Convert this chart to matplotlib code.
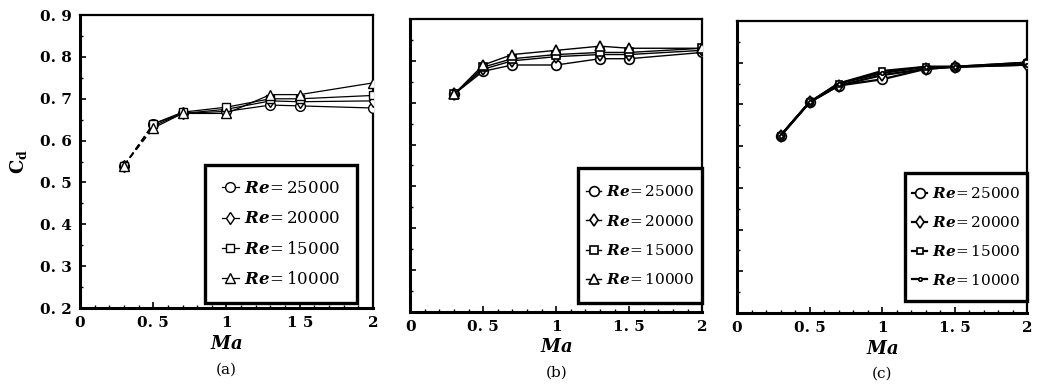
import matplotlib
matplotlib.use("Agg")
import matplotlib.pyplot as plt
from matplotlib.ticker import MultipleLocator
from matplotlib.patches import Rectangle

plt.rcParams['font.family'] = ['DejaVu Serif']
plt.rcParams['mathtext.fontset'] = 'dejavuserif'

ma = [0.3, 0.5, 0.7, 1.0, 1.3, 1.5, 2.0]
re_labels = ["25000", "20000", "15000", "10000"]

cd_a = {
    "25000": [0.54, 0.640, 0.665, 0.670, 0.685, 0.683, 0.678],
    "20000": [0.54, 0.635, 0.665, 0.675, 0.695, 0.693, 0.695],
    "15000": [0.54, 0.640, 0.668, 0.680, 0.700, 0.700, 0.708],
    "10000": [0.54, 0.630, 0.665, 0.665, 0.710, 0.710, 0.738],
}
cd_b = {
    "25000": [0.72, 0.775, 0.790, 0.790, 0.805, 0.805, 0.820],
    "20000": [0.72, 0.780, 0.800, 0.810, 0.815, 0.815, 0.825],
    "15000": [0.72, 0.785, 0.805, 0.815, 0.820, 0.820, 0.830],
    "10000": [0.72, 0.790, 0.815, 0.825, 0.835, 0.830, 0.830],
}
cd_c = {
    "25000": [0.625, 0.705, 0.745, 0.760, 0.785, 0.790, 0.800],
    "20000": [0.625, 0.705, 0.745, 0.770, 0.785, 0.790, 0.795],
    "15000": [0.625, 0.705, 0.750, 0.780, 0.790, 0.790, 0.800],
    "10000": [0.625, 0.705, 0.750, 0.775, 0.790, 0.790, 0.795],
}

xticks = [0, 0.5, 1, 1.5, 2]
xticklabels_a = ["0", "0. 5", "1", "1 5", "2"]
xticklabels_bc = ["0", "0. 5", "1", "1. 5", "2"]
yticks = [0.2, 0.3, 0.4, 0.5, 0.6, 0.7, 0.8, 0.9]
yticklabels = ["0. 2", "0. 3", "0. 4", "0. 5", "0. 6", "0. 7", "0. 8", "0. 9"]
panel_tags = ["(a)", "(b)", "(c)"]

markers_ab = ['o', 'd', 's', '^']
msizes_ab = [7, 6.5, 5.5, 6.5]
markers_c = ['o', 'd', 's', '.']
msizes_c = [7, 6, 5, 5]

fig = plt.figure(figsize=(10.41, 3.87), dpi=100)
positions = [
    [0.0768, 0.204, 0.2815, 0.757],
    [0.394, 0.194, 0.2805, 0.757],
    [0.708, 0.191, 0.2786, 0.755],
]
datas = [cd_a, cd_b, cd_c]
legend_boxes = [
    (0.427, 0.017, 0.518, 0.471),
    (0.575, 0.03, 0.425, 0.46),
    (0.58, 0.04, 0.42, 0.44),
]
legend_fs = [12, 11, 11]
legend_ls = [0.8, 0.93, 0.9]

for i, (pos, data) in enumerate(zip(positions, datas)):
    ax = fig.add_axes(pos)
    mk = markers_c if i == 2 else markers_ab
    ms = msizes_c if i == 2 else msizes_ab
    for j, re in enumerate(re_labels):
        y = data[re]
        lbl = r'$\mathbfit{Re}\!=$' + re
        if i == 0:
            ax.plot(ma[:2], y[:2], color='black', lw=0.9, ls=(0, (5, 3)), zorder=2)
            ax.plot(ma[1:], y[1:], color='black', lw=0.9, zorder=2)
            ax.plot(ma, y, ls='none', marker=mk[j], ms=ms[j], mfc='white',
                    mec='black', mew=1.0, zorder=3)
            ax.plot([], [], color='black', lw=0.9, marker=mk[j], ms=ms[j],
                    mfc='white', mec='black', mew=1.0, label=lbl)
        else:
            lw = 1.6 if i == 2 else 1.0
            ax.plot(ma, y, color='black', lw=lw, marker=mk[j], ms=ms[j],
                    mfc='white', mec='black', mew=1.2, label=lbl, zorder=3)
    ax.set_xlim(0, 2)
    ax.set_ylim(0.2, 0.9)
    ax.set_xticks(xticks)
    ax.set_xticklabels(xticklabels_a if i == 0 else xticklabels_bc,
                       fontsize=11, fontweight='bold')
    ax.set_yticks(yticks)
    if i == 0:
        ax.set_yticklabels(yticklabels, fontsize=11, fontweight='bold')
        ax.set_ylabel(r'$\mathbf{C_d}$', fontsize=13, labelpad=8)
    else:
        ax.set_yticklabels([])
    ax.xaxis.set_minor_locator(MultipleLocator(0.1))
    ax.yaxis.set_minor_locator(MultipleLocator(0.05))
    ax.tick_params(which='major', direction='in', length=4, width=1.2,
                   top=False, right=False, pad=6)
    ax.tick_params(which='minor', direction='in', length=2, width=1.0,
                   top=False, right=False)
    for side, sp in ax.spines.items():
        sp.set_linewidth(2.2 if side in ('left', 'bottom') else 1.6)
    ax.set_xlabel(r'$\mathbfit{Ma}$', fontsize=13, labelpad=3)
    ax.text(0.5, -0.185, panel_tags[i], transform=ax.transAxes, ha='center',
            va='top', fontsize=11)

    bx, by, bw, bh = legend_boxes[i]
    ax.add_patch(Rectangle((bx, by), bw, bh, transform=ax.transAxes,
                           facecolor='white', edgecolor='black', lw=2.4,
                           zorder=4, clip_on=False))
    leg = ax.legend(loc='center', bbox_to_anchor=(bx + bw / 2, by + bh / 2),
                    borderaxespad=0, fontsize=legend_fs[i],
                    handlelength=1.0, handletextpad=0.3,
                    labelspacing=legend_ls[i], frameon=False, borderpad=0.0)
    leg.set_zorder(5)

fig.savefig("out.png", dpi=100)
